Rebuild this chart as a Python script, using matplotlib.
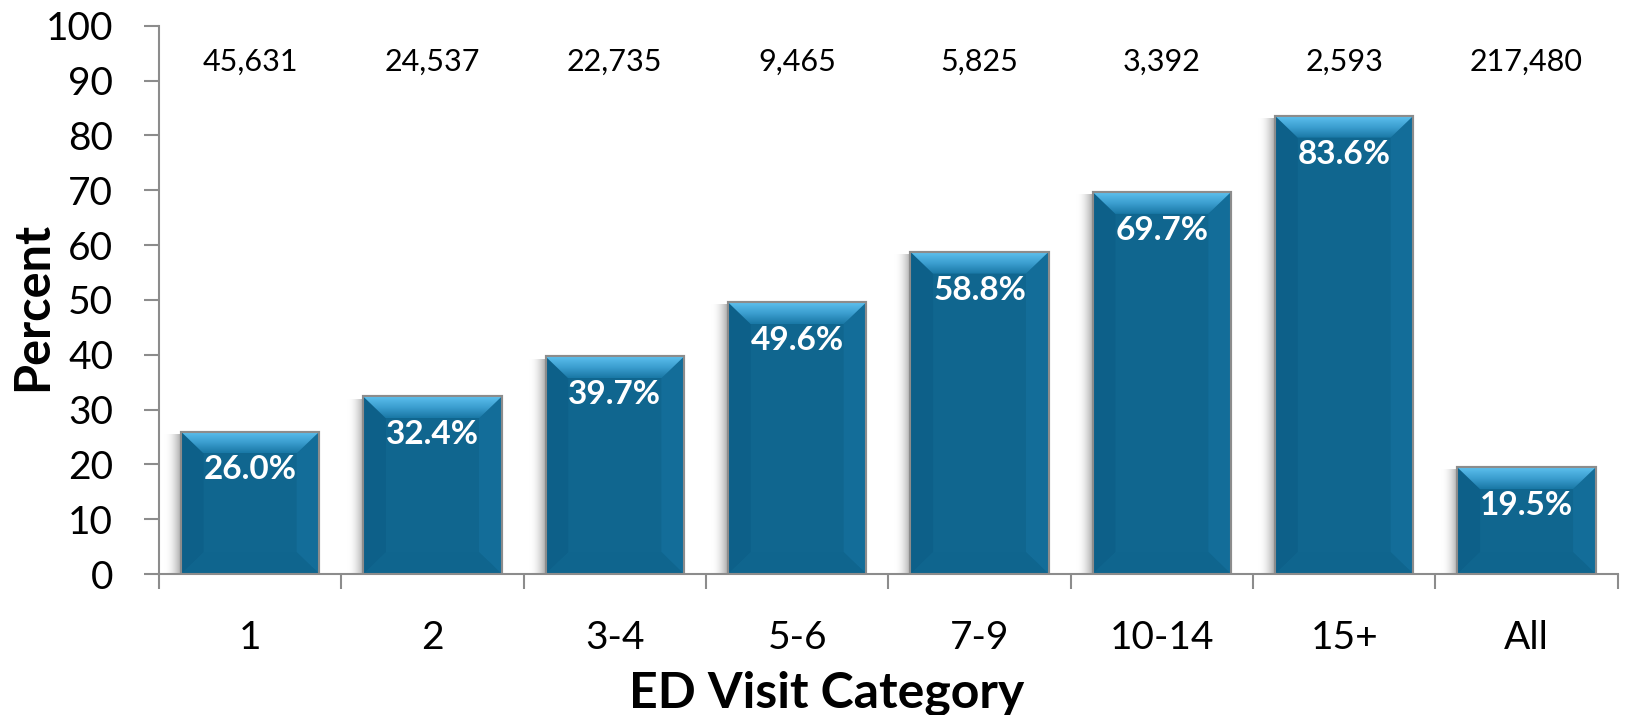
import numpy as np
import matplotlib
matplotlib.use("Agg")
from matplotlib import pyplot as plt
from matplotlib.patches import Polygon
from matplotlib.colors import LinearSegmentedColormap

plt.rcParams['font.family'] = ['Lato', 'DejaVu Sans']

categories = ["1", "2", "3-4", "5-6", "7-9", "10-14", "15+", "All"]
percents = [26.0, 32.4, 39.7, 49.6, 58.8, 69.7, 83.6, 19.5]
counts = ["45,631", "24,537", "22,735", "9,465", "5,825", "3,392", "2,593", "217,480"]

fig = plt.figure(figsize=(16.39, 7.15), dpi=100)
ax = fig.add_axes([0.097, 0.197, 0.890, 0.767])

x = np.arange(len(categories))
bars = ax.bar(x, percents, width=0.76, color="#10668F", edgecolor="#8C8C8C",
              linewidth=1.5, zorder=3)

top_cmap = LinearSegmentedColormap.from_list("top", ["#1A78A6", "#3C9FD0", "#5DC0EE"])
shadow_cmap = LinearSegmentedColormap.from_list("sh", [(1, 1, 1, 0), (0.55, 0.55, 0.55, 0.75)])

bx = 0.125
by = 4.0
for b in bars:
    x0, w, h = b.get_x(), b.get_width(), b.get_height()
    x1 = x0 + w
    # shadow on the left
    grad = np.linspace(0, 1, 50).reshape(1, -1)
    ax.imshow(grad, cmap=shadow_cmap, extent=(x0 - 0.09, x0, 0, h - 0.5),
              aspect="auto", zorder=2, interpolation="bilinear")
    # bevel faces
    left = Polygon([(x0, 0), (x0 + bx, by), (x0 + bx, h - by), (x0, h)],
                   closed=True, facecolor="#0D6089", edgecolor="none", zorder=4)
    right = Polygon([(x1, 0), (x1 - bx, by), (x1 - bx, h - by), (x1, h)],
                    closed=True, facecolor="#136D99", edgecolor="none", zorder=4)
    bottom = Polygon([(x0, 0), (x1, 0), (x1 - bx, by), (x0 + bx, by)],
                     closed=True, facecolor="#0F658E", edgecolor="none", zorder=4)
    ax.add_patch(left)
    ax.add_patch(right)
    ax.add_patch(bottom)
    top = Polygon([(x0, h), (x1, h), (x1 - bx, h - by), (x0 + bx, h - by)],
                  closed=True, facecolor="none", edgecolor="none", zorder=4)
    ax.add_patch(top)
    tg = np.linspace(0, 1, 50).reshape(-1, 1)[::-1]
    im = ax.imshow(tg, cmap=top_cmap, extent=(x0, x1, h - by, h), aspect="auto",
                   zorder=4, interpolation="bilinear")
    im.set_clip_path(top)
    # outline on top
    ax.add_patch(Polygon([(x0, 0), (x0, h), (x1, h), (x1, 0)], closed=True,
                         facecolor="none", edgecolor="#8C8C8C", linewidth=1.5, zorder=5))

ax.set_xlim(-0.5, len(categories) - 0.5)
ax.set_ylim(0, 100)

for b, p, c in zip(bars, percents, counts):
    cx = b.get_x() + b.get_width() / 2
    ax.text(cx, b.get_height() - 7, f"{p:.1f}%", ha="center", va="center",
            color="white", fontsize=24, fontweight="bold", zorder=6)
    ax.text(cx, 93.5, c, ha="center", va="center", fontsize=22, color="black")

ax.set_yticks(np.arange(0, 101, 10))
ax.set_xticks(x)
ax.set_xticklabels(categories)
ax.set_xticks(np.arange(-0.5, len(categories), 1), minor=True)
ax.tick_params(axis="x", which="major", length=0, pad=33, labelsize=28)
ax.tick_params(axis="x", which="minor", length=11, width=1.5, color="#8C8C8C", direction="out")
ax.tick_params(axis="y", length=11, width=1.5, color="#8C8C8C", direction="out",
               pad=22, labelsize=28)

for s in ["top", "right"]:
    ax.spines[s].set_visible(False)
for s in ["left", "bottom"]:
    ax.spines[s].set_color("#8C8C8C")
    ax.spines[s].set_linewidth(1.5)

ax.set_ylabel("Percent", fontsize=35, fontweight="bold", va="center")
ax.yaxis.set_label_coords(-0.0864, 0.489)
ax.set_xlabel("ED Visit Category", fontsize=36, fontweight="bold", va="center")
ax.xaxis.set_label_coords(0.458, -0.218)

fig.savefig("out.png", dpi=100)
